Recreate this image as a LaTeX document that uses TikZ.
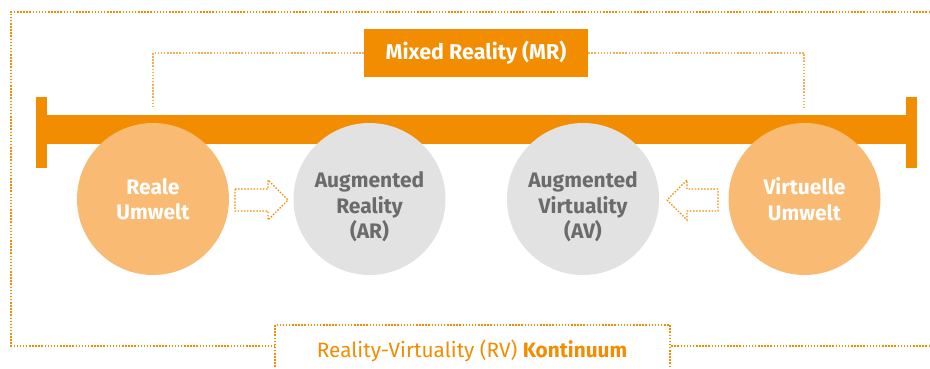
\documentclass[tikz,border=0pt]{standalone}
\usepackage{fontspec}
\setmainfont{Fira Sans}
\definecolor{org}{HTML}{F28C00}
\definecolor{lorg}{HTML}{F9BB73}
\definecolor{lgray}{HTML}{E2E2E2}
\definecolor{dgray}{HTML}{6B6B6B}
\definecolor{dotorg}{HTML}{F6AD55}
\tikzset{
  dotline/.style={line width=1.5pt, dash pattern=on 1.5pt off 1.6pt},
  orangecircle/.style={circle, fill=lorg, minimum size=152pt, inner sep=0pt},
  graycircle/.style={circle, fill=lgray, minimum size=152pt, inner sep=0pt},
  ctext/.style={align=center, font=\bfseries\fontsize{21}{25.5}\selectfont},
}
\begin{document}
\begin{tikzpicture}[x=1pt,y=-1pt]
\useasboundingbox (0,0) rectangle (930,368);
% outer frame
\coordinate (ftr) at (930,12);
\coordinate (ftl) at (11,12);
\coordinate (fbl) at (11,346);
\coordinate (fbr) at (930,346);
% bottom label box
\node[anchor=base, text=org, font=\fontsize{20.8}{24}\selectfont] (rv) at (472,357) {Reality-Virtuality (RV) \textbf{Kontinuum}};
\coordinate (bl1) at (275,370);
\coordinate (bl2) at (275,325);
\coordinate (br2) at (670,325);
\coordinate (br1) at (670,370);
\draw[dotline, org] (ftr) -- (ftl) -- (fbl) -- (fbl -| bl2);
\draw[dotline, org] (fbr) -- (fbr -| br2);
\draw[dotline, org] (bl1) -- (bl2) -- (br2) -- (br1);
% bar
\fill[org] (47,115) rectangle (906,144);
\fill[org] (36,97) rectangle (47,168);
\fill[org] (906,97) rectangle (917,168);
% MR box
\node[fill=org, minimum width=224pt, minimum height=48pt, inner sep=0pt, text=white, font=\bfseries\fontsize{21.5}{24}\selectfont] (mr) at (476,53) {Mixed Reality (MR)};
\coordinate (mrl) at (153,107);
\coordinate (mrr) at (804,107);
\draw[dotline, dotorg] (mr.west) -| (mrl);
\draw[dotline, dotorg] (mr.east) -| (mrr);
% circles
\node[orangecircle] (rw) at (153,199) {};
\node[graycircle] (ar) at (369.5,199) {};
\node[graycircle] (av) at (583,199) {};
\node[orangecircle] (vw) at (804.5,199) {};
\node[ctext, text=white] (rwt) at (153,199) {Reale\\Umwelt};
\node[ctext, text=dgray] (art) at (369.5,207) {Augmented\\Reality\\(AR)};
\node[ctext, text=dgray] (avt) at (583,207) {Augmented\\Virtuality\\(AV)};
\node[ctext, text=white] (vwt) at (804.5,199) {Virtuelle\\Umwelt};
% arrows
\draw[dotline, org, line width=1.3pt] (235,189) -- (268,189) -- (268,180) -- (288,200) -- (268,220) -- (268,211) -- (235,211) -- cycle;
\draw[dotline, org, line width=1.3pt] (718,189) -- (687,189) -- (687,180) -- (667,200) -- (687,220) -- (687,211) -- (718,211) -- cycle;
\end{tikzpicture}
\end{document}
